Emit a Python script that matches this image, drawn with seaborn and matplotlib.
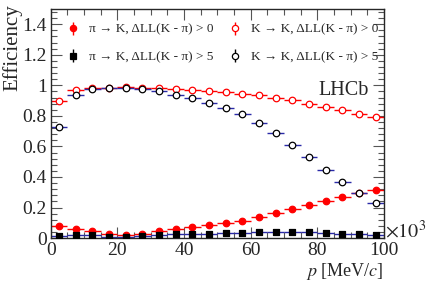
import numpy as np
import pandas as pd
import matplotlib
matplotlib.use("Agg")
import matplotlib.pyplot as plt
from matplotlib.ticker import MultipleLocator
import seaborn as sns

# momentum bins (GeV/c, axis shows x10^3 MeV/c)
p_centers = [2.5, 7.5, 12.5, 17.5, 22.5, 27.5, 32.5, 37.5, 42.5, 47.5,
             52.5, 57.5, 62.5, 67.5, 72.5, 77.5, 82.5, 87.5, 92.5, 97.5]
half_width = 2.5

pi_to_k_dll0 = [0.078, 0.057, 0.044, 0.026, 0.022, 0.030, 0.046, 0.060, 0.074, 0.087,
                0.098, 0.113, 0.135, 0.161, 0.188, 0.216, 0.244, 0.270, 0.298, 0.318]
pi_to_k_dll5 = [0.011, 0.020, 0.020, 0.009, 0.009, 0.013, 0.022, 0.024, 0.028, 0.030,
                0.033, 0.035, 0.037, 0.037, 0.037, 0.037, 0.035, 0.030, 0.026, 0.020]
k_to_k_dll0 = [0.900, 0.970, 0.980, 0.985, 0.990, 0.985, 0.980, 0.975, 0.967, 0.960,
               0.954, 0.946, 0.935, 0.920, 0.904, 0.880, 0.858, 0.837, 0.815, 0.790]
k_to_k_dll5 = [0.730, 0.940, 0.975, 0.985, 0.985, 0.975, 0.960, 0.940, 0.915, 0.884,
               0.854, 0.815, 0.756, 0.690, 0.610, 0.530, 0.444, 0.364, 0.292, 0.227]

labels = ["π → K, ΔLL(K - π) > 0", "π → K, ΔLL(K - π) > 5",
          "K → K, ΔLL(K - π) > 0", "K → K, ΔLL(K - π) > 5"]

series = [pi_to_k_dll0, pi_to_k_dll5, k_to_k_dll0, k_to_k_dll5]
df = pd.concat([pd.DataFrame({"p": p_centers, "eff": vals, "sample": lab})
                for lab, vals in zip(labels, series)], ignore_index=True)

sns.set_style("ticks")
plt.rcParams['font.family'] = ['Liberation Serif', 'DejaVu Serif']
plt.rcParams['mathtext.fontset'] = 'stix'

red = "#ff0000"
blue = "#2a2aa8"
styles = {
    labels[0]: dict(marker="o", face=red, edge=red, bar=red, legbar=red),
    labels[1]: dict(marker="s", face="black", edge="black", bar=blue, legbar="black"),
    labels[2]: dict(marker="o", face="white", edge=red, bar=red, legbar=red),
    labels[3]: dict(marker="o", face="white", edge="black", bar=blue, legbar="black"),
}

fig = plt.figure(figsize=(4.27, 2.90), dpi=100)
ax = fig.add_axes([0.119, 0.179, 0.780, 0.790])

handles = []
for lab in labels:
    st = styles[lab]
    sub = df[df["sample"] == lab]
    ax.errorbar(sub["p"], sub["eff"], xerr=half_width, fmt="none",
                ecolor=st["bar"], elinewidth=1.0, capsize=0, zorder=2)
    sns.scatterplot(data=sub, x="p", y="eff", ax=ax, marker=st["marker"],
                    color=st["face"], edgecolor=st["edge"], linewidth=0.9,
                    s=22, zorder=3, legend=False)
    h = ax.errorbar([np.nan], [np.nan], yerr=[1], fmt=st["marker"],
                    mfc=st["face"], mec=st["edge"], ms=4.5, mew=0.9,
                    ecolor=st["legbar"], elinewidth=1.0, capsize=0, label=lab)
    handles.append(h)

ax.set_xlim(0, 100)
ax.set_ylim(0, 1.5)
ax.xaxis.set_major_locator(MultipleLocator(20))
ax.xaxis.set_minor_locator(MultipleLocator(5))
ax.yaxis.set_minor_locator(MultipleLocator(0.04))
ax.set_yticks([0, 0.2, 0.4, 0.6, 0.8, 1.0, 1.2, 1.4])
ax.set_yticklabels(["0", "0.2", "0.4", "0.6", "0.8", "1", "1.2", "1.4"])
ax.tick_params(which="both", direction="in", top=True, right=True,
               labelsize=14, pad=3, width=0.8, color="#555555")
ax.tick_params(which="major", length=8)
ax.tick_params(which="minor", length=4)
for sp in ax.spines.values():
    sp.set_linewidth(1.0)

ax.set_ylabel("Efficiency", fontsize=15, labelpad=2)
ax.yaxis.set_label_coords(-0.085, 1.02)
ax.yaxis.label.set_horizontalalignment("right")
ax.set_xlabel(r"$p$ [MeV/$c$]", fontsize=13, labelpad=0)
ax.xaxis.set_label_coords(1.0, -0.10)
ax.xaxis.label.set_horizontalalignment("right")

ax.text(1.003, 0.03, r"$\times 10^{3}$", transform=ax.transAxes,
        fontsize=14.5, ha="left", va="center")
ax.text(0.955, 0.645, "LHCb", transform=ax.transAxes, fontsize=14.5,
        ha="right", va="center")

ax.legend(handles=handles, labels=labels, ncol=2, frameon=False,
          loc="upper left", bbox_to_anchor=(0.0, 1.0), fontsize=9.5,
          handlelength=1.2, handletextpad=0.6, columnspacing=1.0,
          labelspacing=1.15, borderaxespad=0.7)

fig.savefig("out.png", dpi=100)
plt.close()
